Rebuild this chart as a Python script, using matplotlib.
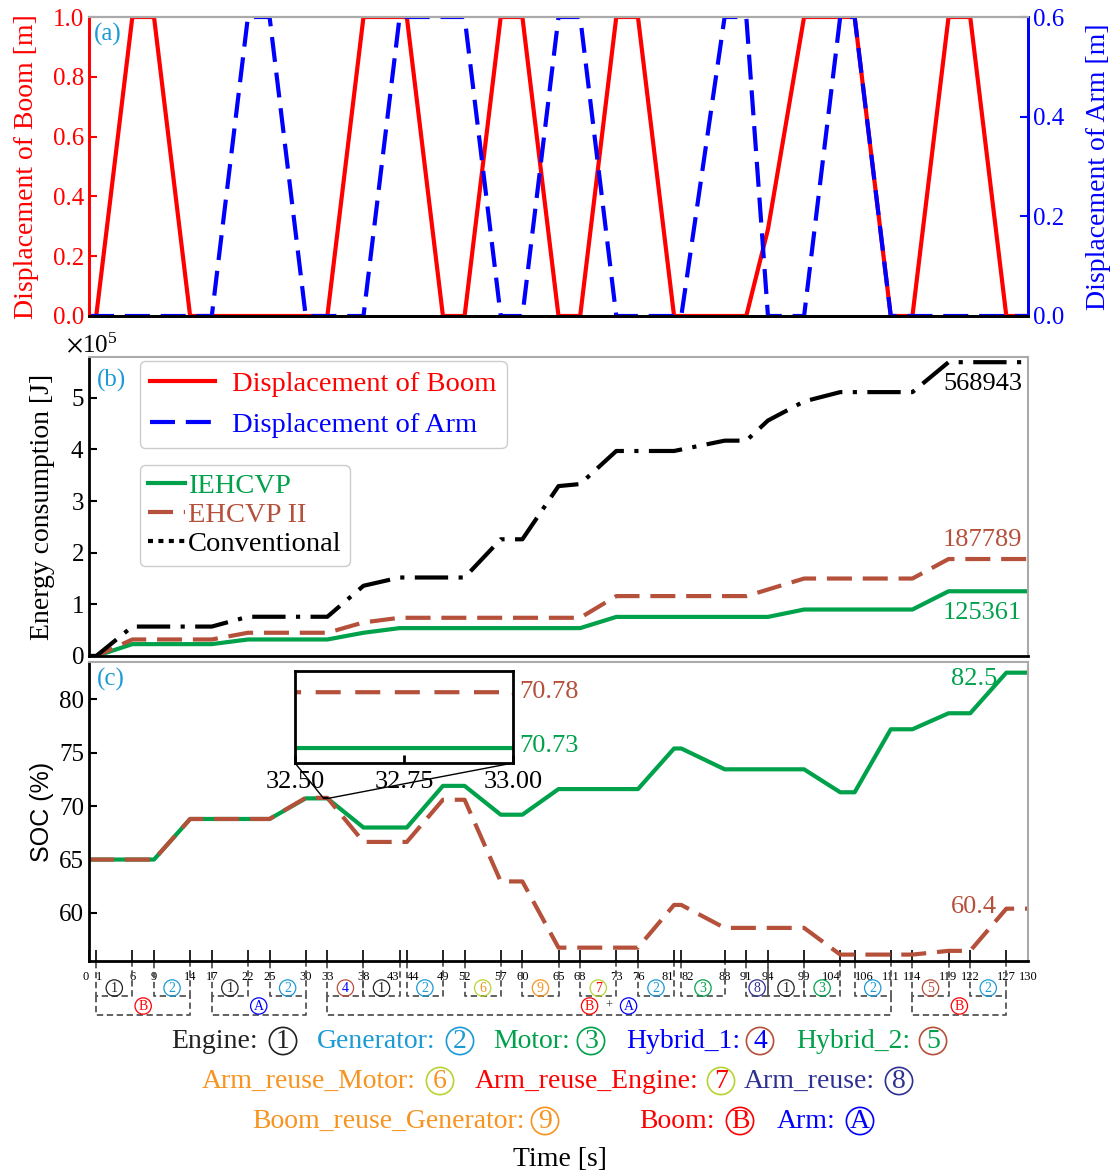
import numpy as np
import matplotlib
matplotlib.use("Agg")
import matplotlib.pyplot as plt
from matplotlib.lines import Line2D
from matplotlib.transforms import blended_transform_factory

plt.rcParams['font.family'] = ['Liberation Serif', 'DejaVu Serif']
plt.rcParams['mathtext.fontset'] = 'stix'

# ---- data -------------------------------------------------------------
t_boom = [0, 1, 6, 9, 14, 33, 38, 44, 49, 52, 57, 60, 65, 68, 73, 76, 81, 91, 94, 99,
          106, 111, 114, 119, 122, 127, 130]
boom = [0, 0, 1, 1, 0, 0, 1, 1, 0, 0, 1, 1, 0, 0, 1, 1, 0, 0, 0.29, 1,
        1, 0, 0, 1, 1, 0, 0]

t_arm = [0, 17, 22, 25, 30, 38, 43, 52, 57, 60, 65, 68, 73, 82, 88, 91, 94, 99, 104, 106, 111, 130]
arm = [0, 0, 0.6, 0.6, 0, 0, 0.6, 0.6, 0, 0, 0.6, 0.6, 0, 0, 0.6, 0.6, 0, 0, 0.6, 0.6, 0, 0]

t_e_iehcvp = [0, 1, 6, 17, 22, 33, 38, 43, 68, 73, 94, 99, 114, 119, 130]
e_iehcvp = [0, 0, 23000, 23000, 32000, 32000, 45000, 54000, 54000, 75700, 75700,
            90000, 90000, 125361, 125361]
t_e_ehcvp = [0, 1, 6, 17, 22, 33, 38, 43, 68, 73, 91, 99, 114, 119, 130]
e_ehcvp = [0, 0, 32000, 32000, 45000, 45000, 65000, 74000, 74000, 116000, 116000,
           150000, 150000, 187789, 187789]
t_e_conv = [0, 1, 6, 17, 22, 33, 38, 43, 52, 57, 60, 65, 68, 73, 81, 88, 91, 94, 99,
            104, 114, 119, 130]
e_conv = [0, 0, 57000, 57000, 76000, 76000, 136000, 152000, 152000, 226000, 226000,
          329000, 333000, 397000, 397000, 417000, 417000, 456000, 493000, 511000,
          511000, 568943, 568943]

t_soc_iehcvp = [0, 9, 14, 25, 30, 33, 38, 44, 49, 52, 57, 60, 65, 76, 81, 82, 88, 99,
                104, 106, 111, 114, 119, 122, 127, 130]
soc_iehcvp = [65, 65, 68.8, 68.8, 70.73, 70.73, 68.0, 68.0, 71.9, 71.9, 69.2, 69.2,
              71.6, 71.6, 75.4, 75.4, 73.45, 73.45, 71.3, 71.3, 77.2, 77.2, 78.7, 78.7,
              82.5, 82.5]
t_soc_ehcvp = [0, 9, 14, 25, 30, 33, 38, 44, 49, 52, 57, 60, 65, 76, 81, 82, 88, 99,
               104, 114, 119, 122, 127, 130]
soc_ehcvp = [65, 65, 68.8, 68.8, 70.78, 70.78, 66.65, 66.65, 70.6, 70.6, 62.95, 62.95,
             56.75, 56.75, 60.75, 60.75, 58.6, 58.6, 56.1, 56.1, 56.45, 56.45, 60.4, 60.4]

time_ticks = [0, 1, 6, 9, 14, 17, 22, 25, 30, 33, 38, 43, 44, 49, 52, 57, 60, 65, 68,
              73, 76, 81, 82, 88, 91, 94, 99, 104, 106, 111, 114, 119, 122, 127, 130]
# neighbouring ticks whose labels are pushed apart
tick_left = [0, 43, 81, 104]
tick_right = [1, 44, 82, 106]

# small mode boxes: start, end, mode number
mode_start = [1, 9, 17, 25, 33, 38, 44, 52, 60, 68, 76, 82, 91, 94, 99, 106, 114, 122]
mode_end = [6, 14, 22, 30, 38, 43, 49, 57, 65, 73, 81, 88, 94, 99, 104, 111, 119, 127]
mode_id = ['1', '2', '1', '2', '4', '1', '2', '6', '9', '7', '2', '3', '8', '1', '3',
           '2', '5', '2']
# actuator boxes
act_start = [1, 17, 33, 114]
act_end = [14, 30, 111, 127]
act_id = [['B'], ['A'], ['B', 'A'], ['B']]

# ---- colours ----------------------------------------------------------
RED = '#ff0000'
BLUE = '#0000ff'
GREEN = '#00a14b'
BROWN = '#b5503a'
LBLUE = '#1b9ad6'
ORANGE = '#f7931e'
YGREEN = '#b8d432'
DBLUE = '#2e3192'
GRAY = '#aaaaaa'

# (text colour, circle colour) for each mode label
mode_col = {'1': ('#222222', '#222222'), '2': (LBLUE, LBLUE), '3': (GREEN, GREEN),
            '4': (BLUE, BROWN), '5': (BROWN, BROWN), '6': (ORANGE, YGREEN),
            '7': (RED, YGREEN), '8': (DBLUE, DBLUE), '9': (ORANGE, ORANGE),
            'B': (RED, RED), 'A': (BLUE, BLUE)}

W, H = 1110, 1173
fig = plt.figure(figsize=(W / 100, H / 100), dpi=100)


def fx(px):
    return px / W


def fy(py):
    return 1 - py / H


L, R = 89, 1028
ax1 = fig.add_axes([fx(L), fy(316), (R - L) / W, 299 / H])
ax2 = fig.add_axes([fx(L), fy(656), (R - L) / W, 299 / H])
ax3 = fig.add_axes([fx(L), fy(961), (R - L) / W, 299 / H])

lw = 3
dash_b = (0, (6, 2.6))
dash_c = (0, (8, 2.5, 1, 2.5))

# ---- (a) displacement --------------------------------------------------
lb, = ax1.plot(t_boom, boom, color=RED, lw=lw, label='Displacement of Boom')
ax1r = ax1.twinx()
la, = ax1r.plot(t_arm, arm, color=BLUE, lw=lw, ls=dash_b, label='Displacement of Arm')
ax1.set_xlim(0, 130)
ax1.set_ylim(0, 1.0)
ax1r.set_ylim(0, 0.6)
ax1.set_xticks([])
ax1.set_yticks([0, 0.2, 0.4, 0.6, 0.8, 1.0])
ax1r.set_yticks([0, 0.2, 0.4, 0.6])
ax1.set_ylabel('Displacement of Boom [m]', color=RED, fontsize=20, labelpad=10)
ax1r.set_ylabel('Displacement of Arm [m]', color=BLUE, fontsize=20, labelpad=16)
ax1.tick_params(axis='y', colors=RED, direction='in', length=6, width=1.5, labelsize=18)
ax1r.tick_params(axis='y', colors=BLUE, direction='in', length=6, width=1.5, labelsize=18)
for a in (ax1, ax1r):
    a.spines['left'].set_color(RED)
    a.spines['left'].set_linewidth(2)
    a.spines['right'].set_color(BLUE)
    a.spines['right'].set_linewidth(2)
    a.spines['top'].set_color(GRAY)
    a.spines['top'].set_linewidth(1.5)
    a.spines['bottom'].set_linewidth(2)
ax1.text(0.005, 0.94, '(a)', transform=ax1.transAxes, color=LBLUE, fontsize=18,
         va='center', ha='left')

# ---- (b) energy ---------------------------------------------------------
l1, = ax2.plot(t_e_iehcvp, e_iehcvp, color=GREEN, lw=lw, label='IEHCVP')
l2, = ax2.plot(t_e_ehcvp, e_ehcvp, color=BROWN, lw=lw, ls=dash_b, label='EHCVP II')
l3, = ax2.plot(t_e_conv, e_conv, color='black', lw=lw, ls=dash_c, label='Conventional')
ax2.set_xlim(0, 130)
ax2.set_ylim(0, 5.79e5)
ax2.set_xticks([])
ax2.set_yticks([0, 1e5, 2e5, 3e5, 4e5, 5e5])
ax2.ticklabel_format(axis='y', style='sci', scilimits=(0, 0), useMathText=True)
ax2.yaxis.get_offset_text().set_fontsize(18)
ax2.yaxis.get_offset_text().set_x(-0.024)
ax2.set_ylabel('Energy consumption [J]', fontsize=20, labelpad=11)
ax2.tick_params(axis='y', direction='in', length=6, width=1.5, labelsize=18)
ax2.text(0.008, 0.92, '(b)', transform=ax2.transAxes, color=LBLUE, fontsize=18,
         va='center', ha='left')
ax2.text(129.2, 5.27e5, f'{e_conv[-1]}', color='black', fontsize=19, ha='right', va='center')
ax2.text(129.2, 2.25e5, f'{e_ehcvp[-1]}', color=BROWN, fontsize=19, ha='right', va='center')
ax2.text(129.2, 0.83e5, f'{e_iehcvp[-1]}', color=GREEN, fontsize=19, ha='right', va='center')

leg1 = ax2.legend([lb, la], ['Displacement of Boom', 'Displacement of Arm'],
                  loc='upper left', bbox_to_anchor=(0.054, 0.985), borderaxespad=0,
                  fontsize=20.5, handlelength=2.3, handletextpad=0.6, labelspacing=0.5,
                  borderpad=0.35, framealpha=1)
for txt, c in zip(leg1.get_texts(), [RED, BLUE]):
    txt.set_color(c)
ax2.add_artist(leg1)
conv_key = Line2D([], [], color='black', lw=lw, ls=(0, (1.2, 1.3)))
leg2 = ax2.legend([l1, l2, conv_key], ['IEHCVP', 'EHCVP II', 'Conventional'],
                  loc='upper left', bbox_to_anchor=(0.054, 0.639), borderaxespad=0,
                  fontsize=20.5, handlelength=1.3, handletextpad=0.1, labelspacing=0.1,
                  borderpad=0.3, framealpha=1)
for txt, c in zip(leg2.get_texts(), [GREEN, BROWN, 'black']):
    txt.set_color(c)

# ---- (c) SOC -------------------------------------------------------------
ax3.plot(t_soc_iehcvp, soc_iehcvp, color=GREEN, lw=lw)
ax3.plot(t_soc_ehcvp, soc_ehcvp, color=BROWN, lw=lw, ls=dash_b)
ax3.set_xlim(0, 130)
ax3.set_ylim(55.5, 83.5)
ax3.set_yticks([60, 65, 70, 75, 80])
ax3.set_xticks(time_ticks)
ax3.set_xticklabels([str(v) for v in time_ticks])
for v, lab in zip(time_ticks, ax3.get_xticklabels()):
    if v in tick_left:
        lab.set_horizontalalignment('right')
    elif v in tick_right:
        lab.set_horizontalalignment('left')
ax3.tick_params(axis='x', direction='in', length=8, width=1.2, labelsize=9, pad=7)
ax3.tick_params(axis='y', direction='in', length=6, width=1.5, labelsize=18)
ax3.set_ylabel('SOC (%)', fontsize=18, family='Liberation Sans', labelpad=4)
ax3.text(0.008, 0.94, '(c)', transform=ax3.transAxes, color=LBLUE, fontsize=18,
         va='center', ha='left')
ax3.text(125.7, 81.9, f'{soc_iehcvp[-1]}', color=GREEN, fontsize=19, ha='right', va='center')
ax3.text(125.7, 60.56, f'{soc_ehcvp[-1]}', color=BROWN, fontsize=19, ha='right', va='center')

for a in (ax2, ax3):
    a.spines['left'].set_linewidth(2)
    a.spines['bottom'].set_linewidth(2)
    for s in ('top', 'right'):
        a.spines[s].set_color(GRAY)
        a.spines[s].set_linewidth(1.5)

# inset
axins = fig.add_axes([fx(295), fy(763), 218 / W, 92 / H])
axins.plot(t_soc_iehcvp, soc_iehcvp, color=GREEN, lw=lw)
axins.plot(t_soc_ehcvp, soc_ehcvp, color=BROWN, lw=lw, ls=(0, (6, 3.5)))
axins.set_xlim(32.5, 33.0)
axins.set_ylim(70.7166, 70.799)
axins.set_yticks([])
axins.set_xticks([32.5, 32.75, 33.0])
axins.set_xticklabels(['32.50', '32.75', '33.00'])
axins.tick_params(axis='x', direction='in', length=6, width=2, labelsize=19, pad=6)
for s in axins.spines.values():
    s.set_linewidth(2)
axins.text(1.03, 0.77, '70.78', transform=axins.transAxes, color=BROWN, fontsize=19,
           va='center', ha='left')
axins.text(1.03, 0.19, '70.73', transform=axins.transAxes, color=GREEN, fontsize=19,
           va='center', ha='left')
ind = ax3.indicate_inset_zoom(axins, edgecolor='black', linewidth=1, alpha=1)
for c, v in zip(ind.connectors, [True, False, True, False]):
    c.set_visible(v)

# ---- mode boxes below the time axis --------------------------------------
trans = blended_transform_factory(ax3.transData, fig.transFigure)
box_kw = dict(transform=trans, clip_on=False, color='#555555', lw=1.3, ls=(0, (3.5, 2)))
y_ax, y_small, y_big = fy(962), fy(996), fy(1015)
for s, e, m in zip(mode_start, mode_end, mode_id):
    ax3.plot([s, s, e, e], [y_ax, y_small, y_small, y_ax], **box_kw)
    tc, ec = mode_col[m]
    ax3.text((s + e) / 2, fy(988), m, transform=trans, ha='center', va='center',
             fontsize=10, color=tc,
             bbox=dict(boxstyle='circle,pad=0.12', fc='none', ec=ec, lw=0.9))
for s, e, ids in zip(act_start, act_end, act_id):
    ax3.plot([s, s, e, e], [y_small, y_big, y_big, y_small], **box_kw)
    mid = (s + e) / 2
    if len(ids) == 1:
        xs = [mid]
    else:
        xs = [mid - 2.7, mid + 2.7]
        ax3.text(mid, fy(1006), '+', transform=trans, ha='center', va='center',
                 fontsize=9, color='#333333')
    for x, m in zip(xs, ids):
        tc, ec = mode_col[m]
        ax3.text(x, fy(1006), m, transform=trans, ha='center', va='center',
                 fontsize=10, color=tc,
                 bbox=dict(boxstyle='circle,pad=0.12', fc='none', ec=ec, lw=0.9))

# ---- key of the modes -----------------------------------------------------
key = [
    ('Engine:', '1', 258, 283, 1041, '#222222'),
    ('Generator:', '2', 436, 460, 1041, LBLUE),
    ('Motor:', '3', 570, 591, 1041, GREEN),
    ('Hybrid_1:', '4', 740, 760, 1041, BLUE),
    ('Hybrid_2:', '5', 910, 933, 1041, GREEN),
    ('Arm_reuse_Motor:', '6', 416, 440, 1081, ORANGE),
    ('Arm_reuse_Engine:', '7', 698, 721, 1081, RED),
    ('Arm_reuse:', '8', 875, 899, 1081, DBLUE),
    ('Boom_reuse_Generator:', '9', 525, 545, 1121, ORANGE),
    ('Boom:', 'B', 715, 740, 1121, RED),
    ('Arm:', 'A', 835, 860, 1121, BLUE),
]
key_digit = {'5': GREEN, '7': RED, '6': ORANGE, '4': BLUE}
for label, m, x_txt, x_circ, y, c in key:
    fig.text(fx(x_txt), fy(y), label, color=c, fontsize=20, ha='right', va='center')
    tc, ec = mode_col[m]
    fig.text(fx(x_circ), fy(y), m, color=key_digit.get(m, tc), fontsize=20,
             ha='center', va='center',
             bbox=dict(boxstyle='circle,pad=0.04', fc='none', ec=ec, lw=1.2))
fig.text(fx(560), fy(1160), 'Time [s]', fontsize=20, ha='center', va='center')

fig.savefig('out.png', dpi=100)
